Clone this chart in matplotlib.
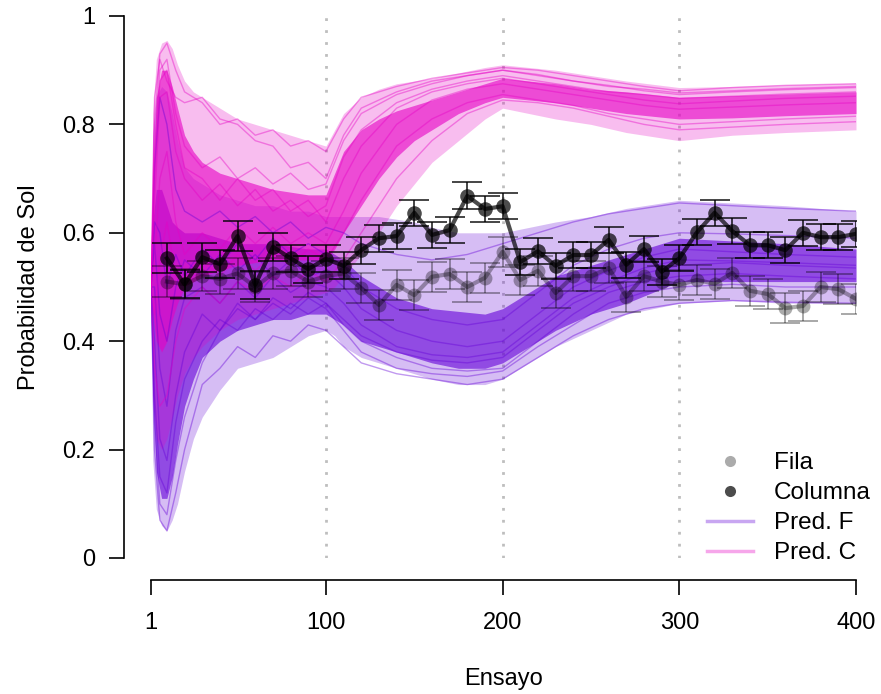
import matplotlib
matplotlib.use('Agg')
import matplotlib.pyplot as plt
from matplotlib.lines import Line2D

plt.rcParams['font.family'] = ['Liberation Sans', 'DejaVu Sans']

# ---------------- datos observados (cada 10 ensayos) ----------------
trials = [10, 20, 30, 40, 50, 60, 70, 80, 90, 100,
          110, 120, 130, 140, 150, 160, 170, 180, 190, 200,
          210, 220, 230, 240, 250, 260, 270, 280, 290, 300,
          310, 320, 330, 340, 350, 360, 370, 380, 390, 400]

columna = [0.553, 0.505, 0.555, 0.542, 0.594, 0.504, 0.574, 0.553, 0.533, 0.552,
           0.539, 0.568, 0.590, 0.594, 0.637, 0.596, 0.605, 0.668, 0.644, 0.649,
           0.546, 0.566, 0.539, 0.559, 0.559, 0.587, 0.541, 0.570, 0.528, 0.553,
           0.601, 0.637, 0.603, 0.577, 0.577, 0.568, 0.600, 0.592, 0.592, 0.598]
columna_se = [0.028, 0.026, 0.027, 0.026, 0.027, 0.026, 0.026, 0.025, 0.025, 0.025,
              0.025, 0.025, 0.025, 0.024, 0.024, 0.024, 0.024, 0.025, 0.024, 0.024,
              0.024, 0.024, 0.024, 0.024, 0.024, 0.024, 0.024, 0.024, 0.024, 0.024,
              0.024, 0.024, 0.024, 0.024, 0.024, 0.024, 0.024, 0.024, 0.024, 0.024]

fila = [0.510, 0.505, 0.520, 0.515, 0.525, 0.500, 0.525, 0.530, 0.510, 0.520,
        0.525, 0.498, 0.467, 0.504, 0.485, 0.519, 0.524, 0.500, 0.517, 0.565,
        0.513, 0.530, 0.489, 0.520, 0.520, 0.535, 0.482, 0.520, 0.510, 0.504,
        0.513, 0.506, 0.526, 0.493, 0.487, 0.461, 0.465, 0.500, 0.496, 0.478]
fila_se = [0.028] * 40

# ---------------- predicciones: bandas ----------------
band_t = [1, 2, 4, 7, 10, 13, 16, 20, 25, 30, 40, 50, 60, 70, 80, 90, 100, 105, 110,
          120, 130, 140, 150, 160, 175, 190, 200, 215, 230, 250, 270, 300, 330, 360, 400]

predC_lo = [0.50, 0.30, 0.22, 0.20, 0.22, 0.26, 0.30, 0.34, 0.37, 0.39, 0.42, 0.44, 0.45, 0.46,
            0.47, 0.48, 0.49, 0.50, 0.52, 0.56, 0.60, 0.65, 0.69, 0.73, 0.77, 0.81, 0.83, 0.82,
            0.81, 0.80, 0.785, 0.77, 0.78, 0.785, 0.79]
predC_hi = [0.50, 0.82, 0.92, 0.95, 0.955, 0.94, 0.91, 0.88, 0.86, 0.85, 0.83, 0.81, 0.80, 0.79,
            0.78, 0.77, 0.76, 0.79, 0.82, 0.85, 0.865, 0.875, 0.88, 0.885, 0.895, 0.905, 0.91,
            0.905, 0.90, 0.89, 0.88, 0.868, 0.87, 0.873, 0.876]
predC_core_lo = [0.50, 0.45, 0.40, 0.38, 0.40, 0.44, 0.47, 0.50, 0.51, 0.52, 0.53, 0.54, 0.545,
                 0.55, 0.55, 0.55, 0.55, 0.57, 0.60, 0.65, 0.70, 0.74, 0.77, 0.79, 0.82, 0.84,
                 0.85, 0.845, 0.84, 0.83, 0.82, 0.81, 0.812, 0.816, 0.82]
predC_core_hi = [0.50, 0.70, 0.85, 0.90, 0.90, 0.87, 0.83, 0.78, 0.75, 0.73, 0.71, 0.70, 0.69,
                 0.68, 0.675, 0.67, 0.67, 0.71, 0.75, 0.79, 0.81, 0.825, 0.835, 0.845, 0.86,
                 0.875, 0.885, 0.88, 0.875, 0.865, 0.86, 0.85, 0.853, 0.856, 0.86]

predF_lo = [0.50, 0.18, 0.09, 0.06, 0.05, 0.07, 0.10, 0.16, 0.22, 0.26, 0.31, 0.35, 0.36, 0.37,
            0.39, 0.41, 0.42, 0.41, 0.39, 0.37, 0.36, 0.35, 0.34, 0.33, 0.32, 0.32, 0.33, 0.36,
            0.39, 0.42, 0.45, 0.47, 0.475, 0.47, 0.47]
predF_hi = [0.50, 0.78, 0.85, 0.87, 0.86, 0.82, 0.77, 0.72, 0.70, 0.69, 0.67, 0.66, 0.65, 0.65,
            0.64, 0.64, 0.63, 0.63, 0.63, 0.63, 0.63, 0.625, 0.62, 0.61, 0.60, 0.60, 0.60, 0.61,
            0.62, 0.63, 0.645, 0.66, 0.655, 0.65, 0.64]
predF_core_lo = [0.50, 0.30, 0.16, 0.11, 0.11, 0.15, 0.21, 0.28, 0.33, 0.37, 0.40, 0.42, 0.43,
                 0.44, 0.44, 0.45, 0.45, 0.44, 0.43, 0.40, 0.39, 0.38, 0.37, 0.36, 0.35, 0.35,
                 0.36, 0.39, 0.42, 0.45, 0.47, 0.51, 0.51, 0.51, 0.51]
predF_core_hi = [0.50, 0.62, 0.68, 0.68, 0.65, 0.62, 0.61, 0.60, 0.60, 0.60, 0.59, 0.58, 0.58,
                 0.58, 0.575, 0.57, 0.57, 0.56, 0.55, 0.52, 0.50, 0.48, 0.47, 0.46, 0.455, 0.45,
                 0.46, 0.49, 0.52, 0.54, 0.56, 0.59, 0.585, 0.58, 0.57]

# ---------------- algunas trayectorias simuladas individuales ----------------
sample_t = [1, 3, 6, 10, 15, 20, 30, 40, 50, 60, 70, 80, 90, 100, 110, 120, 140, 160,
            180, 200, 220, 240, 260, 280, 300, 330, 360, 400]

predC_lines = [
    [0.5, 0.80, 0.93, 0.95, 0.90, 0.86, 0.84, 0.80, 0.81, 0.78, 0.79, 0.76, 0.77, 0.75, 0.81, 0.85, 0.87, 0.885, 0.895, 0.905, 0.90, 0.89, 0.88, 0.87, 0.862, 0.868, 0.872, 0.875],
    [0.5, 0.65, 0.85, 0.86, 0.75, 0.70, 0.66, 0.69, 0.65, 0.68, 0.64, 0.66, 0.63, 0.65, 0.74, 0.79, 0.84, 0.865, 0.88, 0.89, 0.88, 0.87, 0.86, 0.855, 0.848, 0.852, 0.856, 0.86],
    [0.5, 0.55, 0.70, 0.75, 0.62, 0.56, 0.60, 0.57, 0.61, 0.58, 0.61, 0.58, 0.60, 0.58, 0.64, 0.71, 0.80, 0.845, 0.865, 0.875, 0.865, 0.855, 0.845, 0.835, 0.828, 0.832, 0.836, 0.84],
    [0.5, 0.35, 0.28, 0.30, 0.40, 0.46, 0.50, 0.47, 0.51, 0.49, 0.52, 0.50, 0.53, 0.51, 0.55, 0.60, 0.70, 0.77, 0.82, 0.845, 0.84, 0.83, 0.815, 0.80, 0.79, 0.795, 0.80, 0.805],
    [0.5, 0.75, 0.90, 0.92, 0.82, 0.76, 0.72, 0.74, 0.70, 0.72, 0.69, 0.71, 0.68, 0.69, 0.77, 0.82, 0.855, 0.875, 0.89, 0.90, 0.89, 0.88, 0.87, 0.865, 0.858, 0.862, 0.866, 0.87],
    [0.5, 0.45, 0.55, 0.62, 0.52, 0.50, 0.55, 0.52, 0.56, 0.53, 0.56, 0.54, 0.57, 0.55, 0.60, 0.66, 0.76, 0.81, 0.84, 0.855, 0.845, 0.835, 0.82, 0.81, 0.80, 0.805, 0.81, 0.815],
    [0.5, 0.70, 0.88, 0.90, 0.80, 0.72, 0.70, 0.66, 0.70, 0.66, 0.68, 0.64, 0.66, 0.62, 0.70, 0.76, 0.83, 0.86, 0.875, 0.885, 0.875, 0.865, 0.855, 0.845, 0.838, 0.843, 0.848, 0.852],
    [0.5, 0.85, 0.92, 0.88, 0.85, 0.84, 0.85, 0.81, 0.80, 0.77, 0.76, 0.72, 0.73, 0.70, 0.78, 0.83, 0.86, 0.88, 0.89, 0.90, 0.892, 0.88, 0.872, 0.862, 0.855, 0.86, 0.864, 0.868],
]
predF_lines = [
    [0.5, 0.20, 0.07, 0.05, 0.12, 0.20, 0.32, 0.35, 0.39, 0.37, 0.41, 0.40, 0.43, 0.42, 0.39, 0.36, 0.34, 0.33, 0.32, 0.33, 0.37, 0.41, 0.44, 0.46, 0.47, 0.475, 0.472, 0.47],
    [0.5, 0.30, 0.15, 0.12, 0.25, 0.33, 0.40, 0.44, 0.42, 0.46, 0.44, 0.47, 0.45, 0.47, 0.43, 0.40, 0.37, 0.35, 0.345, 0.35, 0.40, 0.45, 0.49, 0.51, 0.52, 0.525, 0.52, 0.515],
    [0.5, 0.58, 0.45, 0.40, 0.50, 0.55, 0.52, 0.56, 0.53, 0.56, 0.52, 0.55, 0.52, 0.53, 0.50, 0.46, 0.42, 0.40, 0.39, 0.40, 0.45, 0.50, 0.53, 0.555, 0.57, 0.565, 0.56, 0.555],
    [0.5, 0.72, 0.85, 0.80, 0.68, 0.64, 0.62, 0.64, 0.61, 0.63, 0.60, 0.62, 0.59, 0.61, 0.60, 0.58, 0.56, 0.55, 0.56, 0.58, 0.60, 0.62, 0.635, 0.645, 0.655, 0.65, 0.645, 0.64],
    [0.5, 0.25, 0.10, 0.08, 0.18, 0.26, 0.36, 0.42, 0.46, 0.44, 0.48, 0.46, 0.49, 0.47, 0.44, 0.41, 0.38, 0.365, 0.36, 0.37, 0.42, 0.47, 0.50, 0.525, 0.54, 0.545, 0.54, 0.535],
    [0.5, 0.62, 0.60, 0.50, 0.56, 0.52, 0.57, 0.54, 0.58, 0.55, 0.59, 0.56, 0.58, 0.56, 0.54, 0.50, 0.46, 0.44, 0.43, 0.44, 0.49, 0.54, 0.57, 0.59, 0.60, 0.598, 0.595, 0.59],
    [0.5, 0.40, 0.22, 0.18, 0.30, 0.38, 0.45, 0.42, 0.47, 0.44, 0.47, 0.45, 0.48, 0.46, 0.42, 0.38, 0.35, 0.34, 0.335, 0.345, 0.39, 0.43, 0.47, 0.49, 0.50, 0.505, 0.50, 0.50],
    [0.5, 0.50, 0.35, 0.28, 0.42, 0.48, 0.50, 0.47, 0.51, 0.48, 0.52, 0.49, 0.51, 0.50, 0.47, 0.43, 0.39, 0.375, 0.37, 0.38, 0.43, 0.48, 0.51, 0.535, 0.55, 0.548, 0.545, 0.54],
]

purple = '#6400D8'
magenta = '#E600C4'

# ---------------- figura ----------------
fig = plt.figure(figsize=(8.81, 6.94), dpi=100)
fig.set_facecolor('white')
ax = fig.add_axes([151 / 881, 136 / 694, 705 / 881, 542 / 694])

for xv in [100, 200, 300]:
    ax.axvline(xv, color='#BEBEBE', lw=2, linestyle=(0, (1, 3.3)), zorder=0)

# Pred. F
ax.fill_between(band_t, predF_lo, predF_hi, color=purple, alpha=0.26, lw=0, zorder=1)
ax.fill_between(band_t, predF_core_lo, predF_core_hi, color=purple, alpha=0.6, lw=0, zorder=1)
for vals in predF_lines:
    ax.plot(sample_t, vals, color=purple, alpha=0.4, lw=1, zorder=2)

# Pred. C
ax.fill_between(band_t, predC_lo, predC_hi, color=magenta, alpha=0.26, lw=0, zorder=1)
ax.fill_between(band_t, predC_core_lo, predC_core_hi, color=magenta, alpha=0.6, lw=0, zorder=1)
for vals in predC_lines:
    ax.plot(sample_t, vals, color=magenta, alpha=0.4, lw=1, zorder=2)

# observados
ax.errorbar(trials, fila, yerr=fila_se, fmt='none', ecolor=(0, 0, 0, 0.4),
            elinewidth=1.2, capsize=10.8, capthick=1.2, zorder=3)
ax.plot(trials, fila, color=(0, 0, 0, 0.33), lw=3, marker='o', markersize=10,
        markeredgewidth=0, zorder=4)

ax.errorbar(trials, columna, yerr=columna_se, fmt='none', ecolor=(0, 0, 0, 0.85),
            elinewidth=1.2, capsize=10.8, capthick=1.2, zorder=5)
ax.plot(trials, columna, color=(0, 0, 0, 0.7), lw=3, marker='o', markersize=10.5,
        markeredgewidth=0, zorder=6)

# ejes estilo R
ax.set_xlim(1, 400)
ax.set_ylim(0, 1)
for s in ['top', 'right']:
    ax.spines[s].set_visible(False)
ax.spines['left'].set_position(('outward', 19.4))
ax.spines['bottom'].set_position(('outward', 15.8))
ax.spines['left'].set_bounds(0, 1)
ax.spines['bottom'].set_bounds(1, 400)
for s in ['left', 'bottom']:
    ax.spines[s].set_linewidth(1.2)

ax.set_xticks([1, 100, 200, 300, 400])
ax.set_xticklabels(['1', '100', '200', '300', '400'])
ax.set_yticks([0, 0.2, 0.4, 0.6, 0.8, 1])
ax.set_yticklabels(['0', '0.2', '0.4', '0.6', '0.8', '1'])
ax.tick_params(axis='both', labelsize=17, length=11, width=1.2)
ax.tick_params(axis='x', pad=12)
ax.tick_params(axis='y', pad=10)

ax.set_xlabel('Ensayo', fontsize=17)
ax.set_ylabel('Probabilidad de Sol', fontsize=17)
ax.xaxis.set_label_coords(0.5, -0.203)
ax.yaxis.set_label_coords(-0.157, 0.5)

handles = [
    Line2D([], [], marker='o', ls='none', color='black', alpha=0.33, markersize=8, markeredgewidth=0),
    Line2D([], [], marker='o', ls='none', color='black', alpha=0.7, markersize=8, markeredgewidth=0),
    Line2D([], [], color=purple, alpha=0.35, lw=2.5),
    Line2D([], [], color=magenta, alpha=0.35, lw=2.5),
]
ax.legend(handles, ['Fila', 'Columna', 'Pred. F', 'Pred. C'],
          loc='upper left', bbox_to_anchor=(707 / 881, 1 - 452 / 694),
          bbox_transform=fig.transFigure, frameon=False, fontsize=17.5,
          handlelength=1.9, handletextpad=0.85, labelspacing=0.33,
          borderpad=0, borderaxespad=0)

fig.savefig('out.png', dpi=100, facecolor='white')
